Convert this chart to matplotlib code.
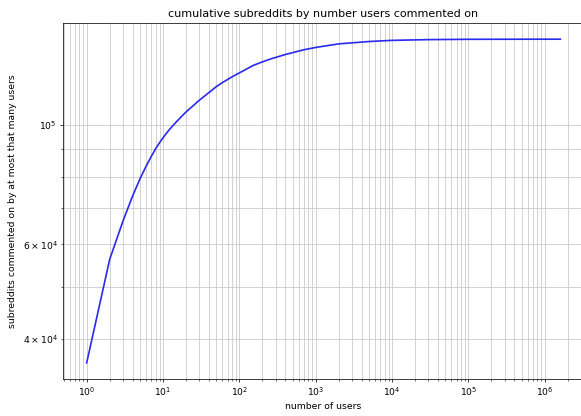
import matplotlib
matplotlib.use("Agg")
import matplotlib.pyplot as plt

# number of users (x) and cumulative subreddit count (y)
users = [1, 2, 3, 4, 5, 6, 7, 8, 9, 10, 12, 15, 20, 30, 40, 50, 60, 70, 80,
         100, 120, 150, 200, 250, 300, 400, 500, 700, 1000, 2000, 5000,
         10000, 30000, 100000, 1000000, 1600000]
subreddits = [36140, 56230, 66370, 73790, 79430, 83750, 87300, 90270, 92630,
              94610, 97840, 101340, 105650, 111130, 114820, 117760, 119810,
              121370, 122740, 124890, 126590, 128820, 130890, 132370, 133410,
              135090, 136180, 137850, 139220, 141360, 142800, 143500, 143960,
              144160, 144230, 144230]

dpi = 67
fig = plt.figure(figsize=(581 / dpi, 416 / dpi), dpi=dpi)
ax = fig.add_axes([63 / 581, 1 - 379 / 416, 521 / 581, 356 / 416])

ax.plot(users, subreddits, color='#2a2aee', linewidth=1.8)
ax.set_xscale('log')
ax.set_yscale('log')
ax.grid(which='both', color='#c4c4c4')

ax.set_title('cumulative subreddits by number users commented on')
ax.set_xlabel('number of users')
ax.set_ylabel('subreddits commented on by at most that many users', labelpad=6)

fig.savefig('out.png', dpi=dpi)
